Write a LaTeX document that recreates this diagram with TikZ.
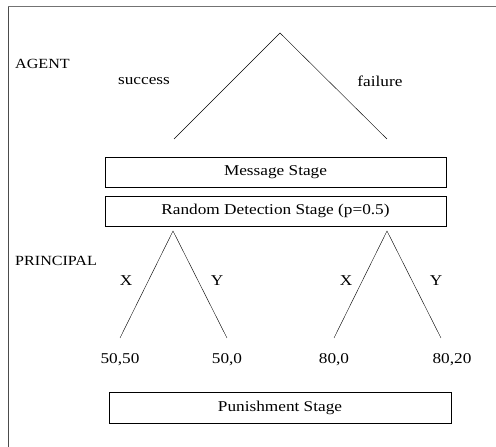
\documentclass[tikz,border=0pt]{standalone}
\usepackage{fontspec}
\setmainfont{Liberation Serif}[FakeStretch=1.15]
\usetikzlibrary{positioning}

\begin{document}
\begin{tikzpicture}[x=1pt,y=1pt,
	every node/.style={font=\fontsize{15}{17}\selectfont},
	player/.style={anchor=west,inner sep=0pt,font=\fontsize{14}{16}\selectfont},
	stagebox/.style={draw,minimum width=341pt,minimum height=30pt,inner sep=0pt}]
	\useasboundingbox (0,0) rectangle (496,447);
	% frame
	\draw[black!70] (8,0) -- (8,441);
	\draw[black!55] (8,441) -- (496,441);
	%% agent
	\coordinate (top) at (280,414);
	\coordinate[below left = 106pt and 106pt of top] (sl);
	\coordinate[below right = 106pt and 107pt of top] (fl);
	\node[player] (agent) at (15,383) {AGENT};
	\node (succ) at (144,366) {success};
	\node (fail) at (380,366) {failure};
	\draw (sl) -- (top) -- (fl);
	%% stages
	\node[stagebox] (msg) at (275.5,275) {Message Stage};
	\node[stagebox,below = 9pt of msg] (rand) {Random Detection Stage (p=0.5)};
	%% principal
	\coordinate (pl) at (173,216);
	\coordinate (pr) at (387,216);
	\coordinate[below left = 107pt and 53pt of pl] (plx);
	\coordinate[below right = 107pt and 54pt of pl] (ply);
	\coordinate[below left = 107pt and 53pt of pr] (prx);
	\coordinate[below right = 107pt and 54pt of pr] (pry);
	\node[player] (princ) at (15,186) {PRINCIPAL};
	\draw (plx) -- (pl) -- (ply);
	\draw (prx) -- (pr) -- (pry);
	\node (xl) at (126,166) {X};
	\node (yl) at (217,166) {Y};
	\node (xr) at (346,166) {X};
	\node (yr) at (436,166) {Y};
	% payoffs
	\node[below = 12pt of plx] (p1) {50,50};
	\node[below = 12pt of ply] (p2) {50,0};
	\node[below = 12pt of prx] (p3) {80,0};
	\node[below = 12pt of pry,xshift=11pt] (p4) {80,20};
	\node[stagebox,minimum width=342pt,minimum height=31pt] (pun) at (280,39.5) {Punishment Stage};
\end{tikzpicture}
\end{document}
